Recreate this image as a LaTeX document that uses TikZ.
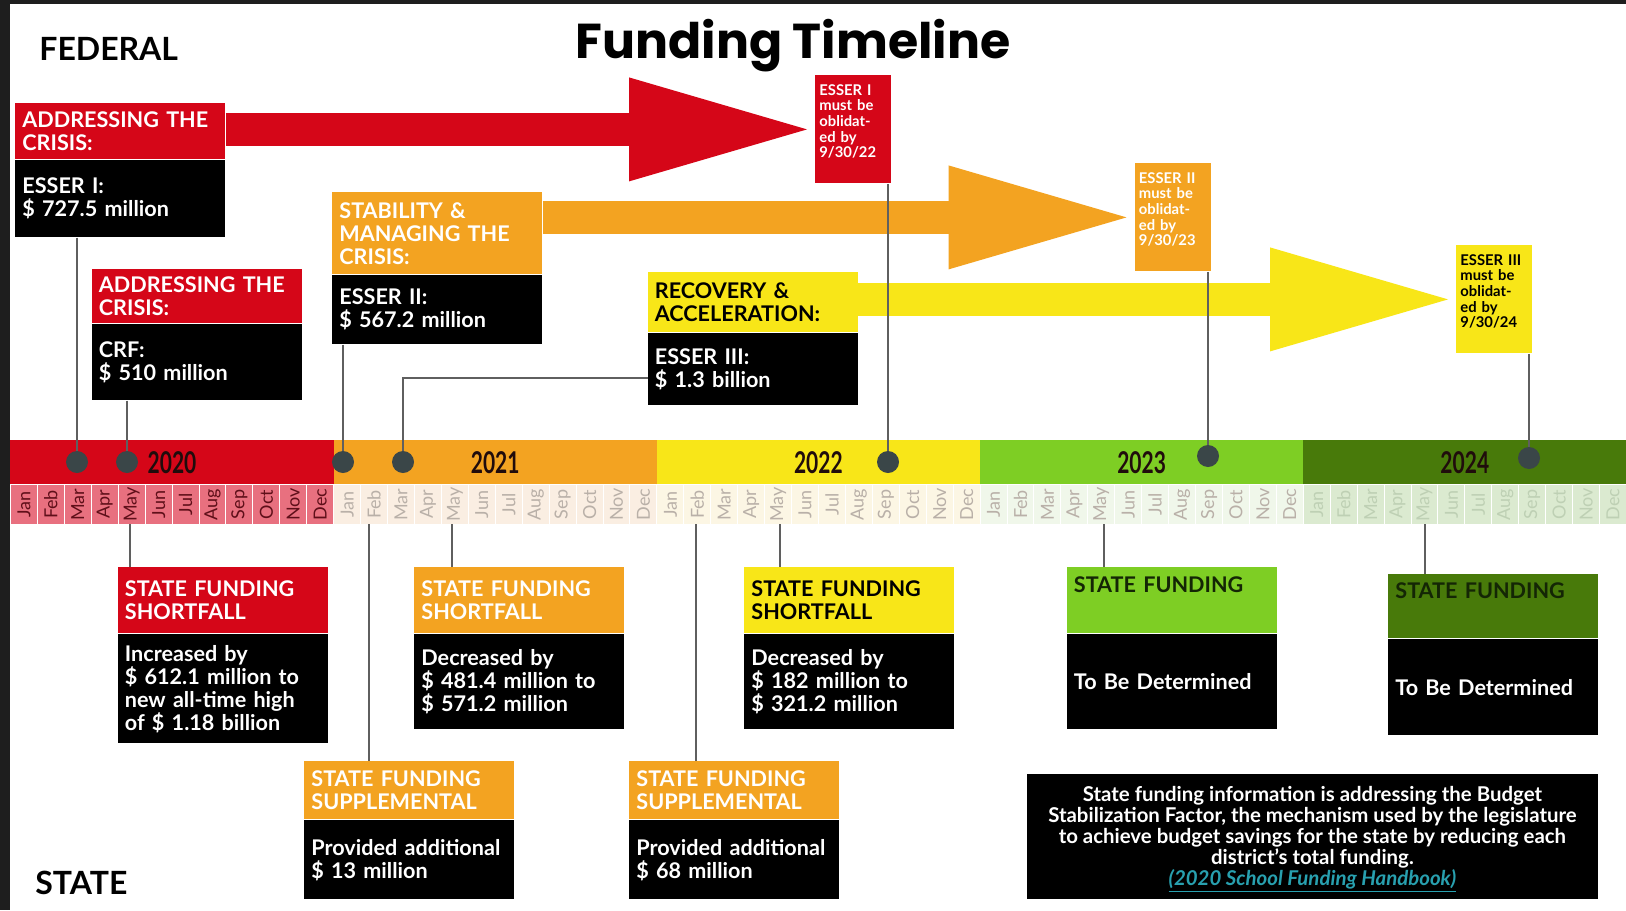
\documentclass[tikz,border=0pt]{standalone}
\usepackage{fontspec}
\setmainfont{Lato}
\newfontfamily\titlefont{Poppins}
\usetikzlibrary{arrows.meta, positioning}
\definecolor{cRed}{RGB}{213,6,24}
\definecolor{cOrange}{RGB}{243,163,33}
\definecolor{cYellow}{RGB}{248,230,24}
\definecolor{cLgreen}{RGB}{126,206,36}
\definecolor{cDgreen}{RGB}{72,122,10}
\definecolor{m20}{RGB}{232,112,127}
\definecolor{m21}{RGB}{250,238,226}
\definecolor{m22}{RGB}{252,246,228}
\definecolor{m23}{RGB}{240,247,234}
\definecolor{m24}{RGB}{219,234,208}
\definecolor{t20}{RGB}{95,15,25}
\definecolor{t21}{RGB}{185,176,168}
\definecolor{t24}{RGB}{190,208,180}
\definecolor{yrtxt}{RGB}{32,12,12}
\definecolor{dotgray}{RGB}{58,70,72}
\definecolor{linegray}{RGB}{95,95,95}
\definecolor{frame}{RGB}{30,30,30}
\definecolor{linkteal}{RGB}{40,160,175}
\definecolor{darktxt}{RGB}{20,38,5}
\tikzset{hdr/.style={rectangle,fill=#1,text=white,anchor=north west,align=left,text width=98pt,inner xsep=3.5pt,inner ysep=2pt,font=\bfseries\fontsize{10.8}{11.5}\selectfont},
body/.style={rectangle,fill=black,text=white,align=left,text width=98pt,inner xsep=3.5pt,inner ysep=2pt,font=\bfseries\fontsize{10.8}{11.5}\selectfont},
due/.style={rectangle,fill=#1,text=white,anchor=north west,align=left,text width=34pt,inner xsep=2pt,minimum height=54pt,text depth=39.5pt,font=\bfseries\fontsize{7.4}{7.8}\selectfont},
yrdot/.style={circle,fill=dotgray,inner sep=0pt,minimum size=11pt},
line/.style={draw=linegray,line width=1pt},
big/.style={draw=#1,line width=16.5pt,shorten >=4pt,-{Triangle[length=89pt,width=52pt,line width=0pt]}},
yearbar/.style={rectangle,anchor=north west,inner sep=0pt,minimum width=161.6pt,minimum height=22pt,text=yrtxt},
mcell/.style={rectangle,anchor=north west,inner sep=0pt,minimum width=13.47pt,minimum height=20pt,draw=white,line width=0.5pt,font=\fontsize{9}{9}\selectfont},
note/.style={rectangle,fill=black,text=white,anchor=north west,align=center,minimum width=285.5pt,minimum height=62pt,text height=52pt,font=\bfseries\fontsize{10.2}{10.4}\selectfont}}

\begin{document}
\begin{tikzpicture}[x=0.5pt,y=-0.5pt]
\useasboundingbox (0,0) rectangle (1626,910);
\fill[white] (0,0) rectangle (1626,910);
\fill[frame] (0,0) rectangle (10,910);
\fill[frame] (0,0) rectangle (1626,4);

% headings
\node[anchor=base,inner sep=0pt,font=\titlefont\bfseries\fontsize{24.5}{24.5}\selectfont] (title) at (793,58) {Funding Timeline};
\node[anchor=base west,inner sep=0pt,font=\bfseries\fontsize{16}{16}\selectfont] (fed) at (39,60) {FEDERAL};
\node[anchor=base west,inner sep=0pt,font=\bfseries\fontsize{16}{16}\selectfont] (state) at (35,894) {STATE};

% timeline
\foreach \yc/\mc/\tc/\yr [count=\i from 0] in {cRed/m20/t20/2020,cOrange/m21/t21/2021,cYellow/m22/t21/2022,cLgreen/m23/t21/2023,cDgreen/m24/t24/2024}{
  \node[yearbar,fill=\yc] (y\yr) at ({10+\i*323.2},440) {\scalebox{0.7}[1]{\bfseries\fontsize{15}{15}\selectfont\yr}};
  \foreach \m [count=\j from 0] in {Jan,Feb,Mar,Apr,May,Jun,Jul,Aug,Sep,Oct,Nov,Dec}
    \node[mcell,fill=\mc,text=\tc] (m\yr-\j) at ({10+\i*323.2+\j*26.933},484) {\rotatebox{90}{\m}};
}

% federal funding
\node[due=cRed] (d1) at (815,75) {ESSER I\\must be\\oblidat-\\ed by\\9/30/22};
\node[due=cOrange] (d2) at (1134.5,163) {ESSER II\\must be\\oblidat-\\ed by\\9/30/23};
\node[due=cYellow,text=black] (d3) at (1456,245) {ESSER III\\must be\\oblidat-\\ed by\\9/30/24};

\node[hdr=cRed,minimum height=28pt] (h1) at (15,103) {ADDRESSING THE\\CRISIS:};
\node[body,minimum height=38.5pt,below=0pt of h1] (b1) {ESSER I:\\\$ 727.5 million};
\node[hdr=cRed,minimum height=27pt] (h2) at (91.5,269) {ADDRESSING THE\\CRISIS:};
\node[body,minimum height=38pt,below=0pt of h2] (b2) {CRF:\\\$ 510 million};
\node[hdr=cOrange,minimum height=41pt] (h3) at (332,192) {STABILITY \&\\MANAGING THE\\CRISIS:};
\node[body,minimum height=34.5pt,below=0pt of h3] (b3) {ESSER II:\\\$ 567.2 million};
\node[hdr=cYellow,text=black,minimum height=30pt] (h4) at (647.5,272) {RECOVERY \&\\ACCELERATION:};
\node[body,minimum height=36pt,below=0pt of h4] (b4) {ESSER III:\\\$ 1.3 billion};

\draw[big=cRed] (h1.east |- d1.west) -- (d1.west);
\draw[big=cOrange] (h3.east |- d2.west) -- (d2.west);
\draw[big=cYellow] (h4.east |- d3.west) -- (d3.west);

\node[yrdot] (p1) at (77,462) {};
\node[yrdot] (p2) at (127,462) {};
\node[yrdot] (p3) at (343,462) {};
\node[yrdot] (p4) at (403,462) {};
\node[yrdot] (p5) at (888,462) {};
\node[yrdot] (p6) at (1208,456) {};
\node[yrdot] (p7) at (1529,458) {};

\draw[line] (p1 |- b1.south) -- (p1.north);
\draw[line] (p2 |- b2.south) -- (p2.north);
\draw[line] (p3 |- b3.south) -- (p3.north);
\draw[line] ([yshift=-4.5pt]b4.west) -| (p4.north);
\draw[line] (p5 |- d1.south) -- (p5.north);
\draw[line] (p6 |- d2.south) -- (p6.north);
\draw[line] (p7 |- d3.south) -- (p7.north);

% state funding
\node[hdr=cRed,minimum height=33pt] (s1) at (117.5,567) {STATE FUNDING\\SHORTFALL};
\node[body,minimum height=54.5pt,below=0pt of s1] (r1) {Increased by\\\$ 612.1 million to\\new all-time high\\of \$ 1.18 billion};
\node[hdr=cOrange,minimum height=29pt] (s2) at (304,761) {STATE FUNDING\\SUPPLEMENTAL};
\node[body,minimum height=39.5pt,below=0pt of s2] (r2) {Provided additional\\\$ 13 million};
\node[hdr=cOrange,minimum height=33pt] (s3) at (414,567) {STATE FUNDING\\SHORTFALL};
\node[body,minimum height=47.5pt,below=0pt of s3] (r3) {Decreased by\\\$ 481.4 million to\\\$ 571.2 million};
\node[hdr=cOrange,minimum height=29pt] (s4) at (629,761) {STATE FUNDING\\SUPPLEMENTAL};
\node[body,minimum height=39.5pt,below=0pt of s4] (r4) {Provided additional\\\$ 68 million};
\node[hdr=cYellow,text=black,minimum height=33pt] (s5) at (744,567) {STATE FUNDING\\SHORTFALL};
\node[body,minimum height=47.5pt,below=0pt of s5] (r5) {Decreased by\\\$ 182 million to\\\$ 321.2 million};
\node[hdr=cLgreen,text=darktxt,minimum height=33pt,text depth=16pt] (s6) at (1066.5,567) {STATE FUNDING};
\node[body,minimum height=47.5pt,below=0pt of s6] (r6) {To Be Determined};
\node[hdr=cDgreen,text=darktxt,minimum height=32pt,text depth=16pt] (s7) at (1388,574) {STATE FUNDING};
\node[body,minimum height=48pt,below=0pt of s7] (r7) {To Be Determined};

\coordinate (q1) at (130,524);
\coordinate (q2) at (369,524);
\coordinate (q3) at (452,524);
\coordinate (q4) at (696,524);
\coordinate (q5) at (780,524);
\coordinate (q6) at (1104,524);
\coordinate (q7) at (1425,524);
\draw[line] (q1) -- (q1 |- s1.north);
\draw[line] (q2) -- (q2 |- s2.north);
\draw[line] (q3) -- (q3 |- s3.north);
\draw[line] (q4) -- (q4 |- s4.north);
\draw[line] (q5) -- (q5 |- s5.north);
\draw[line] (q6) -- (q6 |- s6.north);
\draw[line] (q7) -- (q7 |- s7.north);

\node[note] (nt) at (1026.5,774) {State funding information is addressing the Budget\\Stabilization Factor, the mechanism used by the legislature\\to achieve budget savings for the state by reducing each\\district's total funding.\\{\color{linkteal}\itshape\underline{(2020 School Funding Handbook)}}};
\end{tikzpicture}
\end{document}
